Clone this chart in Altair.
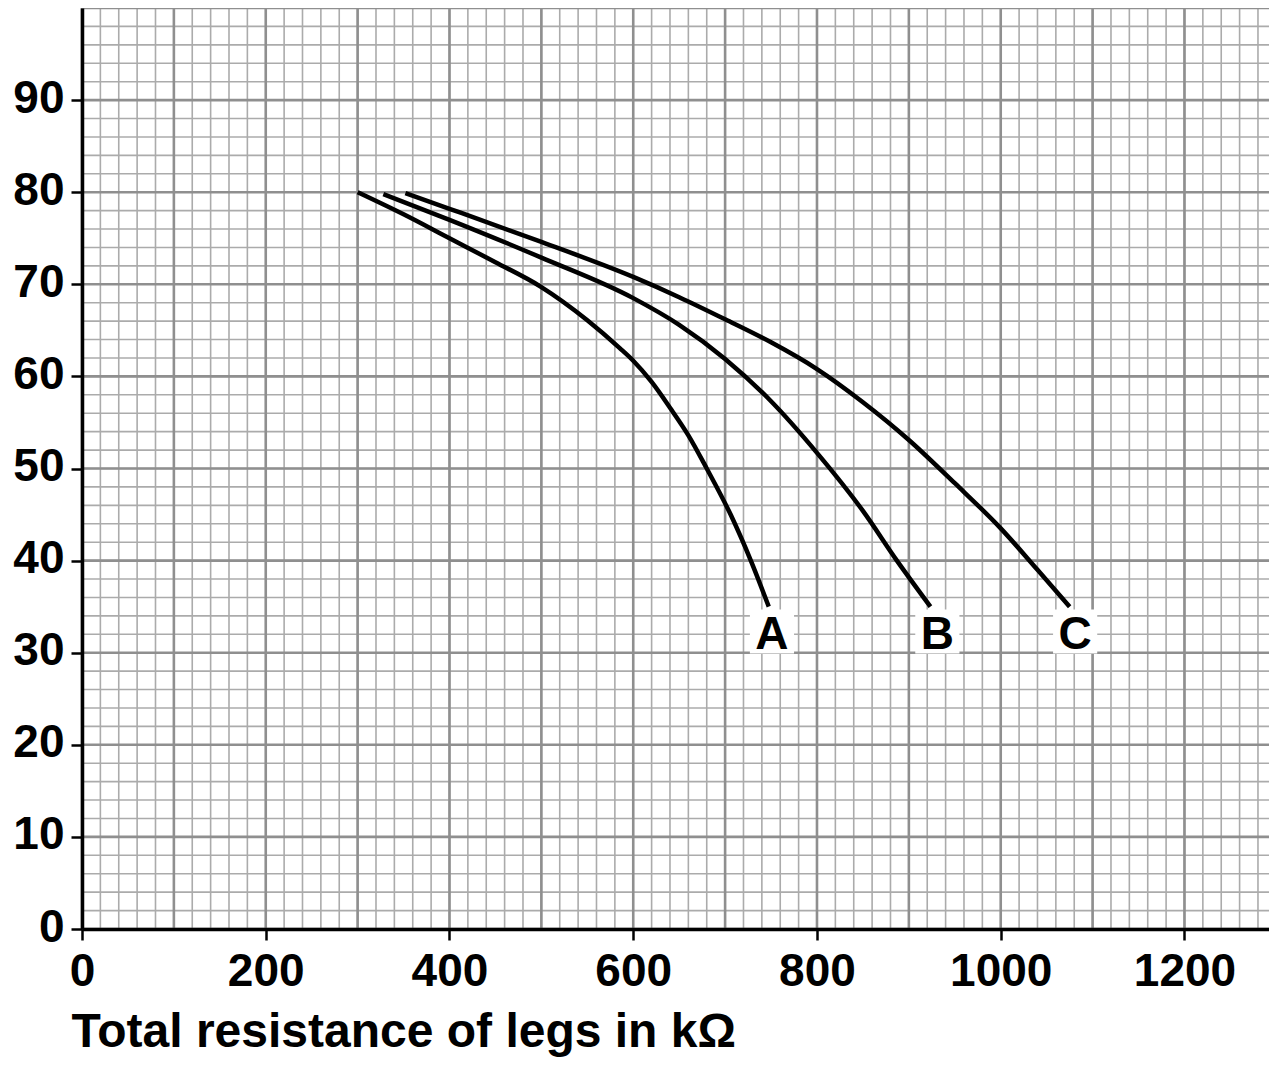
import altair as alt
import pandas as pd

# ---- data ----
a_x = [300, 350, 400, 450, 500, 550, 585, 600, 620, 640, 660, 680, 706, 728, 747.5]
a_y = [80.0, 77.6, 75.0, 72.4, 69.7, 66.1, 63.1, 61.7, 59.4, 56.6, 53.6, 50.0, 45.0, 40.0, 35.0]

b_x = [328, 400, 500, 600, 650, 700, 750, 800, 850, 887, 923.5]
b_y = [79.8, 77.0, 72.9, 68.5, 65.6, 61.9, 57.3, 51.7, 45.4, 40.0, 35.0]

c_x = [352, 400, 500, 600, 650, 700, 750, 800, 850, 900, 950, 1000, 1040, 1075]
c_y = [79.9, 78.2, 74.6, 70.8, 68.6, 66.2, 63.7, 60.8, 57.2, 53.1, 48.4, 43.5, 39.0, 35.0]

labels = ["A", "B", "C"]
label_x = [751, 931, 1081]
label_y = [32.3, 32.3, 32.3]

x_ticks = [0, 200, 400, 600, 800, 1000, 1200]
y_ticks = [0, 10, 20, 30, 40, 50, 60, 70, 80, 90]

X_MAX = 1292  # visible part of the 0-1300 axis (page is 1277 px wide)
minor_x = [v for v in range(0, 1301, 20) if v <= X_MAX]
minor_y = list(range(0, 101, 2))
major_x = [v for v in range(0, 1301, 100) if v <= X_MAX]
major_y = list(range(0, 101, 10))

FONT = "Liberation Sans"

rows = []
for name, xs_, ys_ in (("A", a_x, a_y), ("B", b_x, b_y), ("C", c_x, c_y)):
    for i, (xv, yv) in enumerate(zip(xs_, ys_)):
        rows.append({"series": name, "x": xv, "y": yv, "i": i})
curves = pd.DataFrame(rows)
lab = pd.DataFrame({"t": labels, "x": label_x, "y": label_y})

xs = alt.Scale(domain=[0, X_MAX], nice=False, zero=False)
ys = alt.Scale(domain=[0, 100], nice=False, zero=False)

x_axis = alt.Axis(values=x_ticks, format="d", grid=False, zindex=1,
                  domainColor="black", domainWidth=3.5,
                  tickColor="black", tickWidth=2.5, tickSize=11,
                  labelFont=FONT, labelFontSize=46, labelFontWeight="bold",
                  labelColor="black", labelPadding=9, labelFlush=False,
                  title="Total resistance of legs in kΩ",
                  titleFont=FONT, titleFontSize=48, titleFontWeight="bold",
                  titleColor="black", titleAnchor="start", titleAlign="left",
                  titleBaseline="alphabetic", titleX=-11, titleY=117)
y_axis = alt.Axis(values=y_ticks, format="d", grid=False, zindex=1,
                  domainColor="black", domainWidth=3.5,
                  tickColor="black", tickWidth=2.5, tickSize=11,
                  labelFont=FONT, labelFontSize=46, labelFontWeight="bold",
                  labelColor="black", labelPadding=7, labelFlush=False,
                  labelOffset=-2, title=None)

def vrules(vals, color, w):
    return alt.Chart(pd.DataFrame({"v": vals})).mark_rule(color=color, strokeWidth=w).encode(
        x=alt.X("v:Q", scale=xs, axis=x_axis))

def hrules(vals, color, w):
    return alt.Chart(pd.DataFrame({"v": vals})).mark_rule(color=color, strokeWidth=w).encode(
        y=alt.Y("v:Q", scale=ys, axis=y_axis))

minor_c, minor_w = "#ababab", 1.6
major_c, major_w = "#8f8f8f", 2.6

lines = alt.Chart(curves).mark_line(color="black", strokeWidth=4.5, interpolate="monotone").encode(
    x=alt.X("x:Q", scale=xs, axis=x_axis),
    y=alt.Y("y:Q", scale=ys, axis=y_axis),
    detail="series:N",
    order="i:Q",
)

bg = alt.Chart(lab).mark_square(color="white", opacity=1, size=1950).encode(
    x=alt.X("x:Q", scale=xs, axis=x_axis), y=alt.Y("y:Q", scale=ys, axis=y_axis))

txt = alt.Chart(lab).mark_text(font=FONT, fontSize=46, fontWeight="bold", color="black",
                               align="center", baseline="middle", dy=3).encode(
    x=alt.X("x:Q", scale=xs, axis=x_axis), y=alt.Y("y:Q", scale=ys, axis=y_axis), text="t:N")

chart = alt.layer(
    vrules(minor_x, minor_c, minor_w),
    hrules(minor_y, minor_c, minor_w),
    vrules(major_x, major_c, major_w),
    hrules(major_y, major_c, major_w),
    lines, bg, txt,
).properties(
    width=1187, height=921,
    autosize=alt.AutoSizeParams(type="none"),
    padding={"left": 74, "top": 0, "right": 0, "bottom": 128},
).configure_view(stroke=None).configure(background="white")

chart.save("out.html", embed_options={"renderer": "svg", "actions": False})
